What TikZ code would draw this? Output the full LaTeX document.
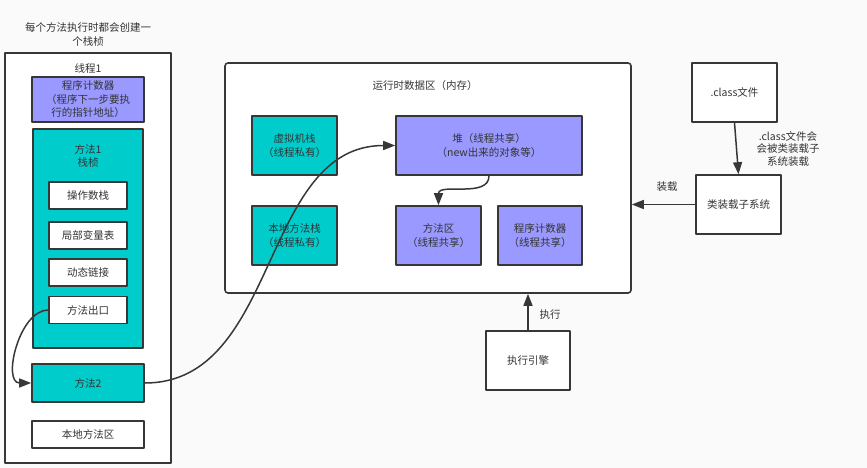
\documentclass[tikz,border=0pt]{standalone}
\usepackage{fontspec}
\setmainfont{Noto Sans CJK SC}
\usetikzlibrary{arrows.meta}
\definecolor{boxteal}{RGB}{0,204,204}
\definecolor{boxpurple}{RGB}{153,153,255}
\definecolor{linegray}{RGB}{55,55,55}
\definecolor{textgray}{RGB}{51,51,51}
\definecolor{bggray}{RGB}{250,250,250}
\begin{document}
\begin{tikzpicture}[line cap=round,line join=round,>={Triangle[length=12pt,width=9pt]},x=1pt,y=-1pt,
    font=\fontsize{10.5}{13.5}\selectfont, text=textgray,
    box/.style={rectangle, draw=linegray, line width=1.6pt, inner sep=0pt, align=center},
    whitebox/.style={box, fill=white},
    tealbox/.style={box, fill=boxteal},
    purplebox/.style={box, fill=boxpurple},
    txt/.style={align=center, inner sep=0pt},
    link/.style={->, draw=linegray, line width=1.5pt}]
    \fill[bggray] (0,0) rectangle (867,468);
    \useasboundingbox (0,0) rectangle (867,468);

    % thread 1
    \node[txt] (note) at (88,34.5) {每个方法执行时都会创建一\\个栈桢};
    \node[whitebox, minimum width=166pt, minimum height=410pt] (thread) at (88,258) {};
    \node[txt] (threadname) at (88,68) {线程1};
    \node[purplebox, minimum width=112pt, minimum height=45pt] (pc1) at (88,99.5) {程序计数器\\（程序下一步要执\\行的指针地址）};
    \node[tealbox, minimum width=110pt, minimum height=219pt] (m1) at (88,238.5) {};
    \node[txt] (m1name) at (88,156) {方法1\\栈桢};
    \node[whitebox, minimum width=78pt, minimum height=27pt] (ops) at (88,195.5) {操作数栈};
    \node[whitebox, minimum width=78pt, minimum height=27pt] (locals) at (88,235.5) {局部变量表};
    \node[whitebox, minimum width=78pt, minimum height=27pt] (dynlink) at (88,272.5) {动态链接};
    \node[whitebox, minimum width=78pt, minimum height=27pt] (exit) at (88,310) {方法出口};
    \node[tealbox, minimum width=112pt, minimum height=38pt] (m2) at (88,383) {方法2};
    \node[whitebox, minimum width=112pt, minimum height=27pt] (nativearea) at (88,434.5) {本地方法区};

    % runtime data area
    \node[whitebox, rounded corners=3pt, minimum width=406pt, minimum height=230pt] (runtime) at (428,178) {};
    \node[txt] (runtimename) at (425,86) {运行时数据区（内存）};
    \node[tealbox, minimum width=85pt, minimum height=59pt] (vmstack) at (294.5,145.5) {虚拟机栈\\（线程私有）};
    \node[tealbox, minimum width=85pt, minimum height=59pt] (nstack) at (294.5,235.5) {本地方法栈\\（线程私有）};
    \node[purplebox, minimum width=186pt, minimum height=59pt] (heap) at (489,145.5) {堆（线程共享）\\（new出来的对象等）};
    \node[purplebox, minimum width=85pt, minimum height=59pt] (marea) at (438.5,235.5) {方法区\\（线程共享）};
    \node[purplebox, minimum width=84pt, minimum height=59pt] (pc2) at (540,235.5) {程序计数器\\（线程共享）};

    % loader and engine
    \node[whitebox, minimum width=85pt, minimum height=59pt] (classfile) at (734.5,92.5) {.class文件};
    \node[whitebox, minimum width=85pt, minimum height=59pt] (loader) at (738.5,204.5) {类装载子系统};
    \node[whitebox, minimum width=84pt, minimum height=59pt] (engine) at (528,360.5) {执行引擎};
    \node[txt, font=\fontsize{10.5}{12.5}\selectfont] (loadnote) at (788,148.5) {.class文件会\\会被类装载子\\系统装载};
    \node[txt] (loadlabel) at (667,187) {装载};
    \node[txt] (execlabel) at (550,315) {执行};

    \draw[link] (exit.west) to[out=180,in=180] (m2.west);
    \draw[link] (m2.east) to[out=0,in=180] (heap.west);
    \draw[link] (heap.south) to[out=-90,in=90] (marea.north);
    \draw[link] (classfile.south) -- (loader.north);
    \draw[link] (loader.west) -- (loader.west -| runtime.east);
    \draw[link] (engine.north) -- (engine.north |- runtime.south);
\end{tikzpicture}
\end{document}
